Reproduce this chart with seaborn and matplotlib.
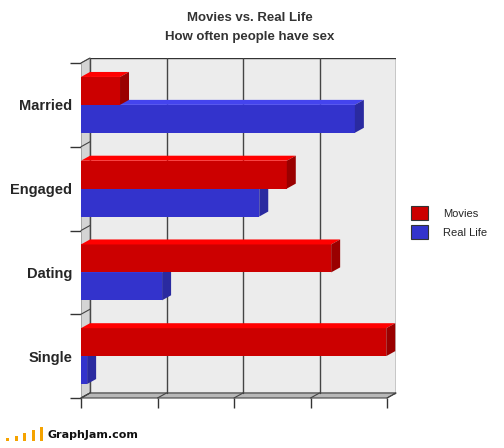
import numpy as np
import pandas as pd
import matplotlib
matplotlib.use('Agg')
import matplotlib.pyplot as plt
from matplotlib.patches import Polygon, Rectangle, Patch
import seaborn as sns

# values (axis runs 0..4, no tick labels)
categories = ['Married', 'Engaged', 'Dating', 'Single']
series = ['Movies', 'Real Life']
movies = [0.51, 2.69, 3.27, 3.99]
real_life = [3.58, 2.33, 1.06, 0.08]

df = pd.DataFrame({
    'status': categories * 2,
    'value': movies + real_life,
    'series': ['Movies'] * len(categories) + ['Real Life'] * len(categories),
})

front_col = {'Movies': '#cc0000', 'Real Life': '#3333cc'}
top_col = {'Movies': '#ff0000', 'Real Life': '#4444ee'}
side_col = {'Movies': '#9a0000', 'Real Life': '#2a2aa0'}

sns.set_style('white')
narrow = ['Liberation Sans', 'DejaVu Sans']

W, H = 504, 448
fig = plt.figure(figsize=(W / 100, H / 100), dpi=100)
ax = fig.add_axes([81 / W, (H - 398) / H, (396 - 81) / W, (398 - 58) / H])
ax.set_facecolor('none')

sns.barplot(data=df, y='status', x='value', hue='series', order=categories,
            hue_order=series, palette=front_col, saturation=1, width=2 / 3,
            orient='h', errorbar=None, legend=False, ax=ax)

# 3d depth offsets in data units
xmax = 4
dx = xmax * 9 / 306
dy = 4 * 5 / 335
top, bot = -0.5, len(categories) - 0.5

ax.set_xlim(0, xmax + dx)
ax.set_ylim(bot, top - dy)

# walls
ax.add_patch(Polygon([(dx, top - dy), (xmax + dx, top - dy), (xmax + dx, bot - dy), (dx, bot - dy)],
                     closed=True, fc='#ececec', ec='#333333', lw=1, zorder=0.5))
ax.add_patch(Polygon([(0, top), (dx, top - dy), (dx, bot - dy), (0, bot)],
                     closed=True, fc='#d4d4d4', ec='#666666', lw=0.6, zorder=0.6))
ax.add_patch(Polygon([(0, bot), (xmax, bot), (xmax + dx, bot - dy), (dx, bot - dy)],
                     closed=True, fc='#b8b8b8', ec='#444444', lw=0.8, zorder=0.6, clip_on=False))
for k in range(1, xmax):
    ax.plot([k + dx, k + dx], [top - dy, bot - dy], color='#444444', lw=1, zorder=1)
for k in range(0, xmax + 1):
    ax.plot([k, k + dx], [bot, bot - dy], color='#444444', lw=0.8, zorder=1, clip_on=False)
for b in np.arange(top, bot + 1):
    ax.plot([0, dx], [b, b - dy], color='#444444', lw=0.8, zorder=1, clip_on=False)

# 3d faces of the bars
for cont, name in zip(ax.containers, series):
    z = 4 if name == 'Movies' else 3
    for p in cont:
        x0, y0 = p.get_x(), p.get_y()
        x1, y1 = x0 + p.get_width(), y0 + p.get_height()
        p.set_zorder(z)
        p.set_edgecolor('none')
        ax.add_patch(Polygon([(x0, y0), (x1, y0), (x1 + dx, y0 - dy), (x0 + dx, y0 - dy)],
                             closed=True, fc=top_col[name], ec='none', zorder=z, clip_on=False))
        ax.add_patch(Polygon([(x1, y0), (x1 + dx, y0 - dy), (x1 + dx, y1 - dy), (x1, y1)],
                             closed=True, fc=side_col[name], ec='none', zorder=z, clip_on=False))

for s in ax.spines.values():
    s.set_visible(False)

ax.set_xlabel('')
ax.set_ylabel('')
ax.set_xticks(range(0, xmax + 1))
ax.set_xticklabels([])
ax.set_yticks(range(len(categories)))
ax.set_yticklabels(categories, family=narrow, fontweight='bold', fontsize=10.5)
ax.set_yticks(np.arange(top, bot + 1), minor=True)
ax.tick_params(axis='x', bottom=True, length=7, width=1, color='#333333', direction='out')
ax.tick_params(axis='y', which='major', left=True, length=0, pad=6.5)
ax.tick_params(axis='y', which='minor', left=True, length=8, width=1, color='#333333')

fig.text(0.496, (H - 18) / H, 'Movies vs. Real Life', ha='center', va='center',
         family=narrow, fontweight='bold', fontsize=9.5, color='#333333')
fig.text(0.496, (H - 37) / H, 'How often people have sex', ha='center', va='center',
         family=narrow, fontweight='bold', fontsize=9.5, color='#333333')

handles = [Patch(fc=front_col[s], ec='#333333', lw=0.8) for s in series]
fig.legend(handles, series, loc='upper left', bbox_to_anchor=(411 / W, (H - 206) / H),
           frameon=False, prop={'family': narrow, 'size': 8}, handlelength=1.55, handleheight=1.55,
           handletextpad=1.35, labelspacing=0.45, borderpad=0, borderaxespad=0)

# GraphJam watermark
for i, h in enumerate([3, 5, 8, 11, 14]):
    fig.add_artist(Rectangle(((6 + i * 8.5) / W, (H - 441) / H), 3 / W, h / H,
                             transform=fig.transFigure, fc='#f5a300', ec='none'))
fig.text(48 / W, (H - 435) / H, 'GraphJam.com', ha='left', va='center',
         fontsize=8, fontweight='bold', color='#111111')

fig.savefig('out.png', dpi=100, facecolor='white')
